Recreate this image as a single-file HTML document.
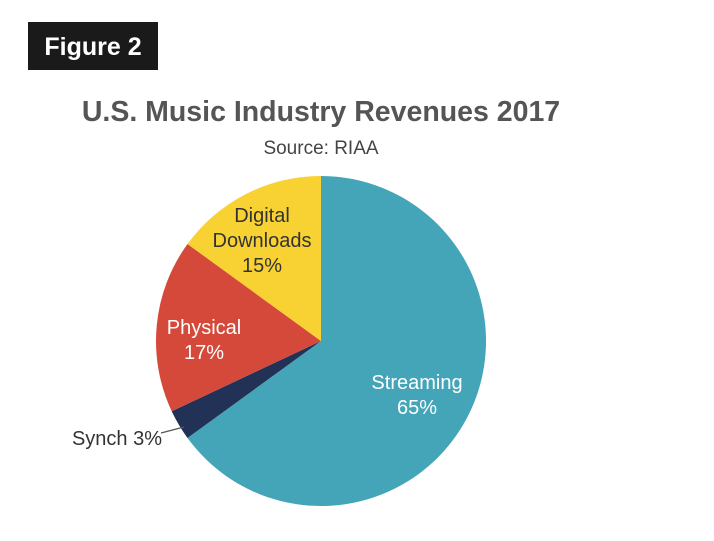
<!DOCTYPE html>
<html><head><meta charset="utf-8"><style>
body{margin:0;background:#fff;width:714px;height:536px;overflow:hidden;font-family:"Liberation Sans",sans-serif}
</style></head><body>
<svg width="714" height="536">
<rect x="28" y="22" width="130" height="48" fill="#1a1a1a"/>
<text x="93" y="55" text-anchor="middle" fill="#fff" font-size="25" font-weight="bold">Figure 2</text>
<text x="321" y="121" text-anchor="middle" fill="#555" font-size="28.5" font-weight="bold">U.S. Music Industry Revenues 2017</text>
<text x="321" y="154" text-anchor="middle" fill="#444" font-size="19">Source: RIAA</text>
<g id="slices"></g>
<line x1="161" y1="433" x2="184" y2="427" stroke="#555" stroke-width="1.2"/>
<g id="labels" font-size="20"></g>
</svg>
<script>
const categories=["Streaming","Synch","Physical","Digital Downloads"];
const values=[65,3,17,15];
const colors=["#45a5b8","#223256","#d5493a","#f8d232"];
const cx=321,cy=341,r=165;
const ns="http://www.w3.org/2000/svg";
const g=document.getElementById('slices');
const total=values.reduce((a,b)=>a+b,0);
function pt(a,rr){return [cx+rr*Math.sin(a),cy-rr*Math.cos(a)];}
let a0=0;
values.forEach((v,i)=>{
  const a1=a0+v/total*2*Math.PI;
  const p0=pt(a0,r),p1=pt(a1,r);
  const p=document.createElementNS(ns,'path');
  p.setAttribute('d',`M${cx},${cy}L${p0[0]},${p0[1]}A${r},${r} 0 ${a1-a0>Math.PI?1:0} 1 ${p1[0]},${p1[1]}Z`);
  p.setAttribute('fill',colors[i]);
  
  
  g.appendChild(p);
  a0=a1;
});
const L=document.getElementById('labels');
function lab(lines,x,y,fill,anchor,name){
  const t=document.createElementNS(ns,'text');
  t.setAttribute('x',x);t.setAttribute('y',y);t.setAttribute('fill',fill);t.setAttribute('text-anchor',anchor);
  
  
  lines.forEach((s,k)=>{const ts=document.createElementNS(ns,'tspan');ts.setAttribute('x',x);ts.setAttribute('dy',k?25:0);ts.textContent=s;t.appendChild(ts);});
  L.appendChild(t);
}
lab(["Streaming",values[0]+"%"],417,389,"#fff","middle","label-streaming");
lab(["Physical",values[2]+"%"],204,334,"#fff","middle","label-physical");
lab(["Digital","Downloads",values[3]+"%"],262,222,"#333","middle","label-digital-downloads");
lab(["Synch "+values[1]+"%"],162,445,"#333","end","label-synch");
</script>
</body></html>
